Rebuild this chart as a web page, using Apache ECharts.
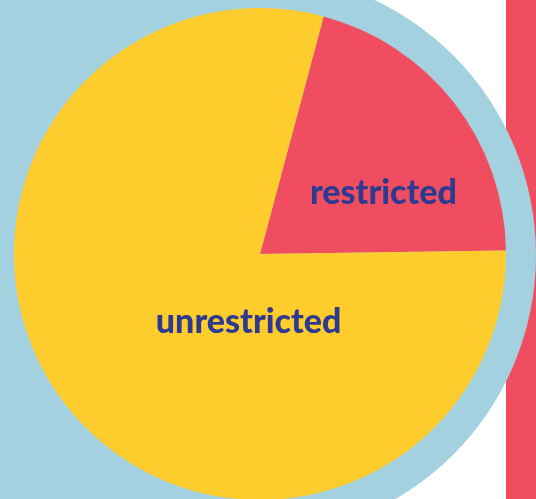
<!DOCTYPE html>
<html>
<head>
<meta charset="utf-8">
<script src="https://cdn.jsdelivr.net/npm/echarts@6/dist/echarts.min.js"></script>
<style>
  html, body { margin: 0; padding: 0; background: #fff; }
  #chart { width: 536px; height: 499px; }
</style>
</head>
<body>
<div id="chart"></div>
<script>
const categories = ["restricted", "unrestricted"];
const shares = [20.6, 79.4];

const colors = ["#F04E60", "#FECC2D"];
// label nudges from the default inside spot
const labelShift = [[24, 16], [88, -9]];

const chart = echarts.init(document.getElementById("chart"));

const option = {
  animation: false,
  backgroundColor: "#ffffff",
  graphic: [
    { type: "rect", z: -20, shape: { x: 0, y: 0, width: 254, height: 499 }, style: { fill: "#A4D1DF" } },
    { type: "rect", z: -20, shape: { x: 506, y: 0, width: 30, height: 499 }, style: { fill: "#F04E60" } },
    { type: "circle", z: -10, shape: { cx: 254, cy: 255, r: 282 }, style: { fill: "#A4D1DF" } }
  ],
  series: [
    {
      type: "pie",
      center: [260, 254],
      radius: 246,
      startAngle: 75,
      clockwise: true,
      silent: true,
      label: {
        show: true,
        position: "inside",
        formatter: "{b}",
        color: "#2E3A8F",
        fontFamily: "Lato",
        fontWeight: 900,
        fontSize: 34
      },
      labelLine: { show: false },
      itemStyle: { borderWidth: 0 },
      data: categories.map((name, i) => ({
        name: name,
        value: shares[i],
        itemStyle: { color: colors[i] },
        label: { offset: labelShift[i] }
      }))
    }
  ]
};

chart.setOption(option);
</script>
</body>
</html>
